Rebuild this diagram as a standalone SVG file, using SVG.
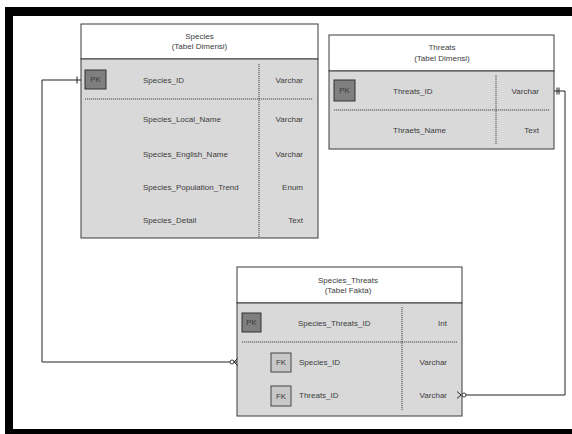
<svg xmlns="http://www.w3.org/2000/svg" width="572" height="434" viewBox="0 0 572 434">
<style>
  .t{font-family:"Liberation Sans",Arial,sans-serif;font-size:8px;fill:#3c3c3c;dominant-baseline:central}
  .c{text-anchor:middle}
  .r{text-anchor:end}
  .hdr{fill:#ffffff;stroke:#3a3a3a;stroke-width:1}
  .body{fill:#d9d9d9;stroke:#3a3a3a;stroke-width:1}
  .pk{fill:#7f7f7f;stroke:#333;stroke-width:1}
  .fk{fill:#c8c8c8;stroke:#444;stroke-width:1}
  .dot{stroke:#222;stroke-width:0.8;stroke-dasharray:1.2 0.8;fill:none}
  .ln{stroke:#222;stroke-width:1;fill:none}
</style>
<rect x="0" y="0" width="572" height="434" fill="#ffffff"/>
<g id="frame" fill="#000">
  <rect x="5" y="7" width="567" height="9"/>
  <rect x="5" y="7" width="8" height="427"/>
  <rect x="5" y="429" width="567" height="5"/>
</g>

<g id="species">
  <rect class="hdr" x="81" y="24" width="237" height="35"/>
  <rect class="body" x="81" y="59" width="237" height="179"/>
  <text class="t c" x="199.5" y="36">Species</text>
  <text class="t c" x="199.5" y="46.5">(Tabel Dimensi)</text>
  <rect class="pk" x="85" y="70" width="21" height="19"/>
  <text class="t c" x="95.5" y="79.5">PK</text>
  <line class="dot" x1="259" y1="64" x2="259" y2="237"/>
  <line class="dot" x1="85" y1="99" x2="313" y2="99"/>
  <text class="t" x="143" y="80">Species_ID</text>
  <text class="t r" x="303" y="80">Varchar</text>
  <text class="t" x="143" y="119">Species_Local_Name</text>
  <text class="t r" x="303" y="119">Varchar</text>
  <text class="t" x="143" y="154">Species_English_Name</text>
  <text class="t r" x="303" y="154">Varchar</text>
  <text class="t" x="143" y="187">Species_Population_Trend</text>
  <text class="t r" x="303" y="187">Enum</text>
  <text class="t" x="143" y="220">Species_Detail</text>
  <text class="t r" x="303" y="220">Text</text>
</g>

<g id="threats">
  <rect class="hdr" x="329" y="35" width="225" height="36"/>
  <rect class="body" x="329" y="71" width="225" height="78"/>
  <text class="t c" x="442" y="47.5">Threats</text>
  <text class="t c" x="442" y="58">(Tabel Dimensi)</text>
  <rect class="pk" x="334" y="80" width="21" height="21"/>
  <text class="t c" x="344.5" y="90.5">PK</text>
  <line class="dot" x1="496" y1="75" x2="496" y2="145"/>
  <line class="dot" x1="334" y1="110" x2="550" y2="110"/>
  <text class="t" x="393" y="91">Threats_ID</text>
  <text class="t r" x="539" y="91">Varchar</text>
  <text class="t" x="393" y="130">Thraets_Name</text>
  <text class="t r" x="539" y="130">Text</text>
</g>

<g id="species_threats">
  <rect class="hdr" x="237" y="267" width="225" height="36"/>
  <rect class="body" x="237" y="303" width="225" height="113"/>
  <text class="t c" x="348" y="280">Species_Threats</text>
  <text class="t c" x="348" y="290.5">(Tabel Fakta)</text>
  <rect class="pk" x="242" y="313" width="19" height="19"/>
  <text class="t c" x="251.5" y="322.5">PK</text>
  <line class="dot" x1="402" y1="307" x2="402" y2="410"/>
  <line class="dot" x1="242" y1="342" x2="457" y2="342"/>
  <text class="t" x="298" y="323">Species_Threats_ID</text>
  <text class="t r" x="447" y="323">Int</text>
  <rect class="fk" x="271" y="353" width="20" height="19"/>
  <text class="t c" x="281" y="362.5">FK</text>
  <text class="t" x="299" y="362">Species_ID</text>
  <text class="t r" x="447" y="362">Varchar</text>
  <rect class="fk" x="271" y="386" width="20" height="20"/>
  <text class="t c" x="281" y="396">FK</text>
  <text class="t" x="299" y="395">Threats_ID</text>
  <text class="t r" x="447" y="395">Varchar</text>
</g>

<g id="connectors">
  <polyline class="ln" points="81,80 42,80 42,362 237,362"/>
  <line class="ln" x1="77" y1="76.5" x2="77" y2="83.5"/>
  <circle cx="232" cy="362" r="2" fill="#fff" stroke="#222" stroke-width="0.9"/>
  <polyline class="ln" points="237.5,358.5 234,362 237.5,365.5"/>
  <polyline class="ln" points="554,91 565,91 565,395 462,395"/>
  <line class="ln" x1="557" y1="87.5" x2="557" y2="94.5"/>
  <line class="ln" x1="559" y1="87.5" x2="559" y2="94.5"/>
  <polyline class="ln" points="457,391.5 461,395 457,398.5"/>
  <circle cx="464" cy="395" r="2" fill="#fff" stroke="#222" stroke-width="0.9"/>
</g>
</svg>
